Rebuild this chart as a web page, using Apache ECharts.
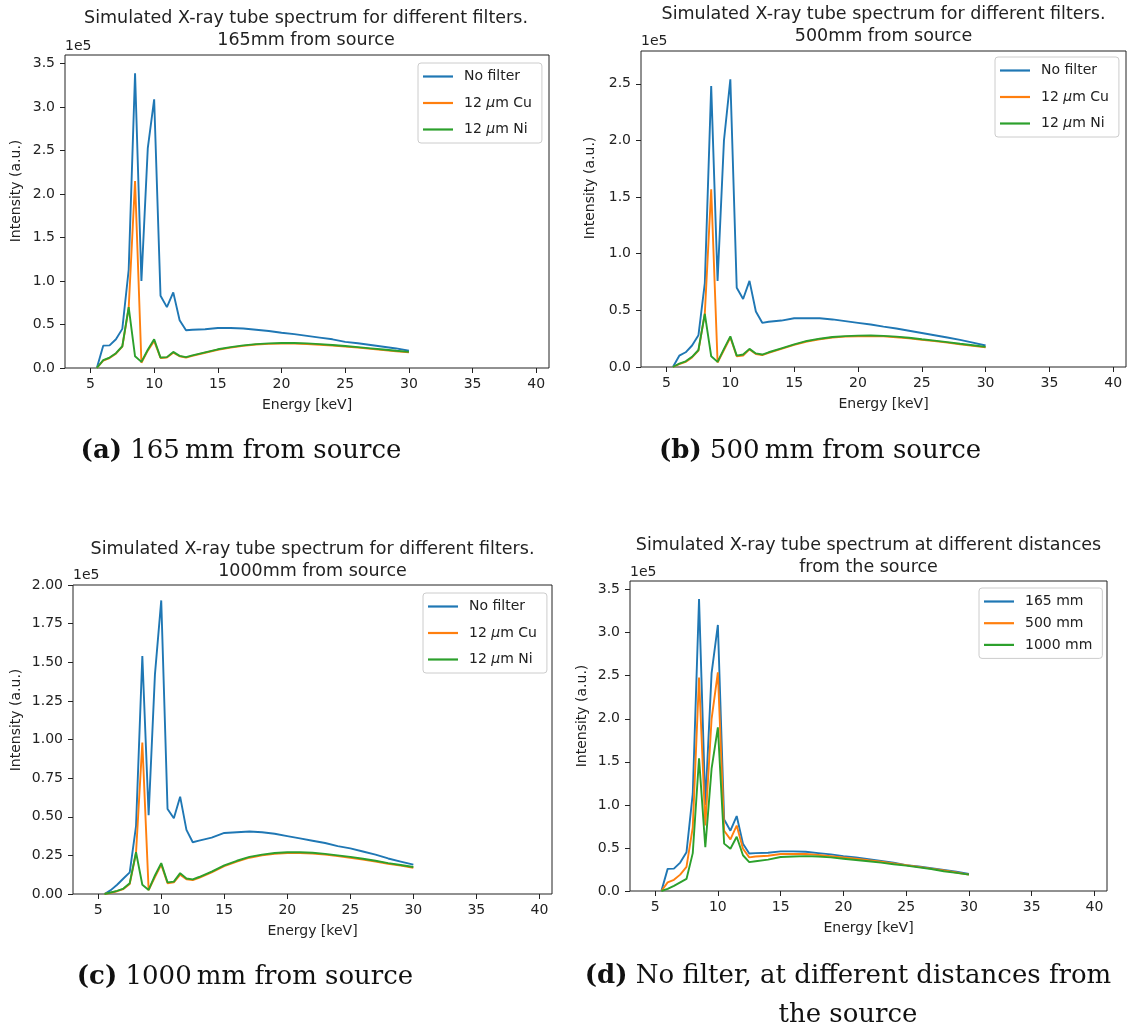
<!DOCTYPE html>
<html>
<head>
<meta charset="utf-8">
<script src="https://cdn.jsdelivr.net/npm/echarts@6/dist/echarts.min.js"></script>
<style>
  html, body { margin: 0; padding: 0; background: #ffffff; }
  #chart { width: 1130px; height: 1031px; }
</style>
</head>
<body>
<div id="chart"></div>
<script>
// Photon energy grid (keV)
const energies = [5.5, 6, 6.5, 7, 7.5, 8, 8.5, 9, 9.5, 10, 10.5, 11, 11.5, 12, 12.5,
  13, 14, 15, 16, 17, 18, 19, 20, 21, 22, 23, 24, 25, 26, 27, 28, 29, 30];

// Simulated intensities, in units of 1e5 a.u.
// 165 mm from the source
const noFilter165 = [0, 0.257, 0.26, 0.33, 0.45, 1.13, 3.39, 1.0, 2.53, 3.09, 0.83, 0.70, 0.87, 0.55, 0.435,
  0.44, 0.445, 0.46, 0.46, 0.455, 0.44, 0.425, 0.405, 0.39, 0.37, 0.35, 0.33, 0.30, 0.285, 0.265, 0.245, 0.225, 0.198];
const cu165 = [0, 0.085, 0.115, 0.165, 0.245, 0.69, 2.15, 0.06, 0.20, 0.31, 0.115, 0.12, 0.175, 0.135, 0.12,
  0.14, 0.175, 0.21, 0.235, 0.255, 0.27, 0.278, 0.28, 0.28, 0.276, 0.268, 0.258, 0.246, 0.234, 0.22, 0.206, 0.193, 0.18];
const ni165 = [0, 0.09, 0.12, 0.17, 0.25, 0.70, 0.135, 0.07, 0.21, 0.33, 0.12, 0.125, 0.185, 0.14, 0.125,
  0.145, 0.18, 0.215, 0.24, 0.26, 0.275, 0.283, 0.287, 0.287, 0.283, 0.275, 0.265, 0.253, 0.24, 0.226, 0.212, 0.198, 0.185];

// 500 mm from the source
const noFilter500 = [0, 0.10, 0.13, 0.19, 0.28, 0.74, 2.48, 0.76, 2.0, 2.54, 0.70, 0.60, 0.76, 0.49, 0.39,
  0.40, 0.41, 0.43, 0.43, 0.43, 0.42, 0.405, 0.39, 0.375, 0.357, 0.34, 0.32, 0.30, 0.28, 0.26, 0.24, 0.215, 0.19];
const cu500 = [0, 0.025, 0.045, 0.085, 0.145, 0.47, 1.57, 0.04, 0.15, 0.26, 0.095, 0.10, 0.155, 0.115, 0.105,
  0.125, 0.16, 0.195, 0.225, 0.245, 0.26, 0.268, 0.272, 0.273, 0.27, 0.263, 0.253, 0.24, 0.228, 0.215, 0.20, 0.187, 0.173];
const ni500 = [0, 0.03, 0.05, 0.09, 0.15, 0.47, 0.095, 0.045, 0.16, 0.27, 0.10, 0.11, 0.16, 0.12, 0.11,
  0.13, 0.165, 0.20, 0.23, 0.25, 0.265, 0.273, 0.277, 0.278, 0.275, 0.268, 0.258, 0.245, 0.233, 0.22, 0.205, 0.192, 0.178];

// 1000 mm from the source
const noFilter1000 = [0, 0.025, 0.06, 0.10, 0.14, 0.44, 1.54, 0.51, 1.42, 1.90, 0.55, 0.49, 0.63, 0.415, 0.335,
  0.345, 0.365, 0.395, 0.40, 0.405, 0.40, 0.39, 0.375, 0.36, 0.345, 0.33, 0.31, 0.295, 0.275, 0.255, 0.23, 0.21, 0.19];
const cu1000 = [0, 0.008, 0.018, 0.032, 0.065, 0.265, 0.98, 0.025, 0.11, 0.19, 0.07, 0.075, 0.125, 0.095, 0.09,
  0.105, 0.14, 0.18, 0.21, 0.235, 0.25, 0.26, 0.265, 0.265, 0.262, 0.255, 0.245, 0.235, 0.223, 0.21, 0.196, 0.184, 0.17];
const ni1000 = [0, 0.01, 0.02, 0.035, 0.07, 0.27, 0.06, 0.026, 0.12, 0.20, 0.075, 0.08, 0.135, 0.10, 0.095,
  0.11, 0.145, 0.185, 0.215, 0.24, 0.255, 0.265, 0.27, 0.27, 0.267, 0.26, 0.25, 0.24, 0.228, 0.215, 0.20, 0.188, 0.175];

// Tick labels
const xTicks = [5, 10, 15, 20, 25, 30, 35, 40];
const yTicks165 = [0, 0.5, 1.0, 1.5, 2.0, 2.5, 3.0, 3.5];
const yTicks500 = [0, 0.5, 1.0, 1.5, 2.0, 2.5];
const yTicks1000 = [0, 0.25, 0.5, 0.75, 1.0, 1.25, 1.5, 1.75, 2.0];
const yTicksDistance = [0, 0.5, 1.0, 1.5, 2.0, 2.5, 3.0, 3.5];

// Series labels
const filterNames = ['No filter', '12 μm Cu', '12 μm Ni'];
const distanceNames = ['165 mm', '500 mm', '1000 mm'];

const colors = ['#1f77b4', '#ff7f0e', '#2ca02c'];
const SANS = 'DejaVu Sans';
const SERIF = 'DejaVu Serif';
const INK = '#222222';

const panels = [
  {
    grid: { left: 65, top: 55, width: 484, height: 313 },
    yMax: 3.6, yTicks: yTicks165, digits: 1,
    title: 'Simulated X-ray tube spectrum for different filters.\n165mm from source',
    titlePos: [306, 29], yLabelPos: [16, 191], expPos: [65, 46.5],
    names: filterNames, values: [noFilter165, cu165, ni165],
    legend: { left: 418, top: 63, gap: 10.5 },
    caption: '{b|(a)} 165\u2009mm from source', captionPos: [241, 451]
  },
  {
    grid: { left: 641, top: 51, width: 485, height: 316 },
    yMax: 2.79, yTicks: yTicks500, digits: 1,
    title: 'Simulated X-ray tube spectrum for different filters.\n500mm from source',
    titlePos: [883.5, 25.5], yLabelPos: [590, 188], expPos: [641, 41],
    names: filterNames, values: [noFilter500, cu500, ni500],
    legend: { left: 995, top: 57, gap: 10.5 },
    caption: '{b|(b)} 500\u2009mm from source', captionPos: [820, 451]
  },
  {
    grid: { left: 73, top: 585, width: 479, height: 309 },
    yMax: 2.0, yTicks: yTicks1000, digits: 2,
    title: 'Simulated X-ray tube spectrum for different filters.\n1000mm from source',
    titlePos: [312.5, 560.5], yLabelPos: [16, 720], expPos: [73, 575],
    names: filterNames, values: [noFilter1000, cu1000, ni1000],
    legend: { left: 423, top: 593, gap: 10.5 },
    caption: '{b|(c)} 1000\u2009mm from source', captionPos: [245, 977]
  },
  {
    grid: { left: 630, top: 581, width: 477, height: 310 },
    yMax: 3.6, yTicks: yTicksDistance, digits: 1,
    title: 'Simulated X-ray tube spectrum at different distances\nfrom the source',
    titlePos: [868.5, 556], yLabelPos: [582, 716], expPos: [630, 572],
    names: distanceNames, values: [noFilter165, noFilter500, noFilter1000],
    legend: { left: 979, top: 588, gap: 5.7 },
    caption: '{b|(d)} No filter, at different distances from\nthe source', captionPos: [848, 996]
  }
];

const grids = [], xAxes = [], yAxes = [], series = [], legends = [], graphics = [];

panels.forEach((p, i) => {
  grids.push(Object.assign({
    show: true, borderColor: INK, borderWidth: 1, backgroundColor: 'transparent',
    containLabel: false, outerBoundsMode: 'none'
  }, p.grid));

  xAxes.push({
    type: 'value', gridIndex: i, min: 3.0, max: 41.0,
    name: 'Energy [keV]', nameLocation: 'middle', nameGap: 30,
    nameTextStyle: { fontFamily: SANS, fontSize: 14, color: INK },
    axisLine: { show: false },
    axisTick: { show: true, length: 5, customValues: xTicks, lineStyle: { color: INK, width: 1 } },
    axisLabel: { customValues: xTicks, margin: 9, fontFamily: SANS, fontSize: 14, color: INK,
      formatter: v => String(v) },
    splitLine: { show: false }
  });

  yAxes.push({
    type: 'value', gridIndex: i, min: 0, max: p.yMax,
    axisLine: { show: false },
    axisTick: { show: true, length: 5, customValues: p.yTicks, lineStyle: { color: INK, width: 1 } },
    axisLabel: { customValues: p.yTicks, margin: 10, fontFamily: SANS, fontSize: 14, color: INK,
      formatter: v => v.toFixed(p.digits) },
    splitLine: { show: false }
  });

  p.names.forEach((name, k) => {
    series.push({
      type: 'line', name: name, xAxisIndex: i, yAxisIndex: i,
      data: energies.map((e, j) => [e, p.values[k][j]]),
      symbol: 'none', showSymbol: false, smooth: false,
      lineStyle: { color: colors[k], width: 1.9 },
      itemStyle: { color: colors[k] },
      z: 2 + k, animation: false, silent: true
    });
  });

  legends.push({
    data: p.names, orient: 'vertical', left: p.legend.left, top: p.legend.top,
    icon: 'rect', itemWidth: 30, itemHeight: 2.2, itemGap: p.legend.gap,
    padding: [5.5, 10, 5.5, 5],
    backgroundColor: 'rgba(255,255,255,0.8)', borderColor: '#cccccc', borderWidth: 1, borderRadius: 3,
    selectedMode: false,
    formatter: n => n.replace('μ', '{i|μ}'),
    textStyle: {
      fontFamily: SANS, fontSize: 14, color: INK, lineHeight: 16, padding: [0, 0, 0, 6],
      rich: { i: { fontFamily: SANS, fontSize: 14, fontStyle: 'italic', color: INK } }
    }
  });

  graphics.push({
    type: 'text', x: p.titlePos[0], y: p.titlePos[1], silent: true,
    style: { text: p.title, fontFamily: SANS, fontSize: 17.5, lineHeight: 22, fill: INK,
      textAlign: 'center', textVerticalAlign: 'middle' }
  });
  graphics.push({
    type: 'text', x: p.yLabelPos[0], y: p.yLabelPos[1], rotation: Math.PI / 2, silent: true,
    style: { text: 'Intensity (a.u.)', fontFamily: SANS, fontSize: 14, fill: INK,
      textAlign: 'center', textVerticalAlign: 'middle' }
  });
  graphics.push({
    type: 'text', x: p.expPos[0], y: p.expPos[1], silent: true,
    style: { text: '1e5', fontFamily: SANS, fontSize: 14, fill: INK,
      textAlign: 'left', textVerticalAlign: 'middle' }
  });
  graphics.push({
    type: 'text', x: p.captionPos[0], y: p.captionPos[1], silent: true,
    style: {
      text: p.caption, fontFamily: SERIF, fontSize: 26, lineHeight: 39, fill: '#111111',
      textAlign: 'center', textVerticalAlign: 'middle',
      rich: { b: { fontFamily: SERIF, fontSize: 26, fontWeight: 'bold', fill: '#111111' } }
    }
  });
});

const chart = echarts.init(document.getElementById('chart'), null, { renderer: 'canvas' });
chart.setOption({
  backgroundColor: '#ffffff',
  animation: false,
  grid: grids,
  xAxis: xAxes,
  yAxis: yAxes,
  legend: legends,
  series: series,
  graphic: graphics
});
</script>
</body>
</html>
